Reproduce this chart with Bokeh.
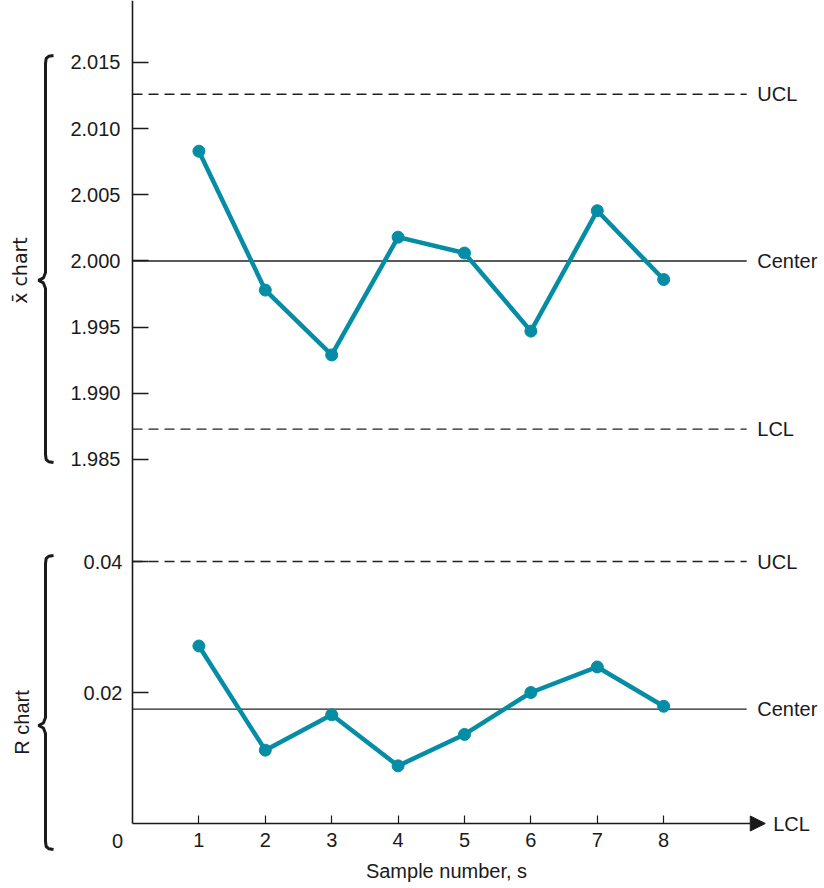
import math
from bokeh.plotting import figure
from bokeh.models import (Range1d, LinearAxis, FixedTicker, PrintfTickFormatter,
                          ColumnDataSource, Arrow, NormalHead)
from bokeh.core.properties import value
from bokeh.embed import file_html
from bokeh.resources import INLINE

# ---------------- data ----------------
samples = [1, 2, 3, 4, 5, 6, 7, 8]
xbar_values = [2.0083, 1.9978, 1.9929, 2.0018, 2.0006, 1.9947, 2.0038, 1.9986]
r_values = [0.0271, 0.0112, 0.0166, 0.0088, 0.0136, 0.0200, 0.0239, 0.0179]

xbar_limit_names = ["UCL", "Center", "LCL"]
xbar_limits = [2.0126, 2.0000, 1.9873]
r_limit_names = ["UCL", "Center"]
r_limits = [0.040, 0.01745]
r_lcl = 0.0

xbar_ticks = [1.985, 1.990, 1.995, 2.000, 2.005, 2.010, 2.015]
r_ticks = [0.02, 0.04]
x_ticks = [1, 2, 3, 4, 5, 6, 7, 8]

# ---------------- layout ----------------
W, H = 824, 886
X0, X1 = -1.988, 10.422
R0, R1 = -0.009618, 0.12565
XB0, XB1 = 1.952731, 2.019685

FONT = "Liberation Sans"
TEAL = "#058DA6"
INK = "#1a1a1a"
LINE_END = 9.25
LABEL_X = 9.41
AXIS_END = 9.53

p = figure(width=W, height=H, x_range=Range1d(X0, X1), y_range=Range1d(R0, R1),
           output_backend="svg", toolbar_location=None,
           x_axis_type=None, y_axis_type=None, min_border=0,
           outline_line_color=None, background_fill_color="white",
           border_fill_color="white")
p.extra_y_ranges = {"xbar": Range1d(XB0, XB1)}

# pixel scales (derived from ranges)
px_x = W / (X1 - X0)
px_r = H / (R1 - R0)
px_xb = H / (XB1 - XB0)

# ---------------- axes ----------------
def style_axis(ax):
    ax.major_label_text_font = FONT
    ax.major_label_text_font_size = "20px"
    ax.major_label_text_color = INK
    ax.major_tick_line_color = INK
    ax.major_tick_line_width = 1.6
    ax.minor_tick_line_color = None
    ax.axis_line_color = INK
    ax.axis_line_width = 1.6

r_axis = LinearAxis(ticker=FixedTicker(ticks=r_ticks),
                    formatter=PrintfTickFormatter(format="%.2f"),
                    fixed_location=0, bounds=(0, R1),
                    major_tick_in=16, major_tick_out=0, major_label_standoff=10)
style_axis(r_axis)
p.add_layout(r_axis, "left")

xb_axis = LinearAxis(y_range_name="xbar", ticker=FixedTicker(ticks=xbar_ticks),
                     formatter=PrintfTickFormatter(format="%.3f"),
                     fixed_location=0,
                     major_tick_in=16, major_tick_out=0, major_label_standoff=12)
style_axis(xb_axis)
xb_axis.axis_line_color = None
p.add_layout(xb_axis, "left")

x_axis = LinearAxis(ticker=FixedTicker(ticks=x_ticks), fixed_location=0,
                    bounds=(0, 9.46), major_tick_in=8, major_tick_out=0,
                    major_label_standoff=9,
                    axis_label="Sample number, s", axis_label_standoff=10,
                    axis_label_text_font=FONT, axis_label_text_font_size="20px",
                    axis_label_text_font_style="normal",
                    axis_label_text_color=INK)
style_axis(x_axis)
x_axis.major_tick_line_width = 1.2
x_axis.axis_line_color = None
p.add_layout(x_axis, "below")

p.add_layout(Arrow(end=NormalHead(size=15, fill_color=INK, line_color=INK),
                   x_start=0, y_start=0, x_end=AXIS_END, y_end=0,
                   line_color=INK, line_width=1.6))

# origin label
p.text(x=[0], y=[0], text=["0"], x_offset=-15, y_offset=10,
       text_align="center", text_baseline="top",
       text_font=value(FONT), text_font_size="20px", text_color=INK)

# ---------------- control limit lines ----------------
for name, yv in zip(xbar_limit_names, xbar_limits):
    dash = "solid" if name == "Center" else "10 6"
    p.segment(x0=[0], y0=[yv], x1=[LINE_END], y1=[yv], y_range_name="xbar",
              line_color="#222222", line_width=1.3, line_dash=dash)
p.text(x=[LABEL_X] * 3, y=xbar_limits, text=xbar_limit_names, y_range_name="xbar",
       text_align="left", text_baseline="middle",
       text_font=value(FONT), text_font_size="20px", text_color=INK)

for name, yv in zip(r_limit_names, r_limits):
    dash = "solid" if name == "Center" else "10 6"
    p.segment(x0=[0], y0=[yv], x1=[LINE_END], y1=[yv],
              line_color="#222222", line_width=1.3, line_dash=dash)
p.text(x=[LABEL_X] * 2, y=r_limits, text=r_limit_names,
       text_align="left", text_baseline="middle",
       text_font=value(FONT), text_font_size="20px", text_color=INK)
p.text(x=[AXIS_END + 0.12], y=[r_lcl], text=["LCL"],
       text_align="left", text_baseline="middle",
       text_font=value(FONT), text_font_size="20px", text_color=INK)

# ---------------- data series ----------------
xb_src = ColumnDataSource(dict(s=samples, v=xbar_values))
r_src = ColumnDataSource(dict(s=samples, v=r_values))
p.line("s", "v", source=xb_src, y_range_name="xbar", line_color=TEAL, line_width=4.5)
p.scatter("s", "v", source=xb_src, y_range_name="xbar", size=12,
          fill_color=TEAL, line_color=TEAL)
p.line("s", "v", source=r_src, line_color=TEAL, line_width=4.5)
p.scatter("s", "v", source=r_src, size=12, fill_color=TEAL, line_color=TEAL)

# ---------------- braces and chart labels ----------------
def brace(xc, top, bot, mid, py):
    h = 8 / px_x      # hook width in x units
    c = 7 / px_x      # cusp depth
    u = 1 / py        # one pixel in y units
    xs = [xc + h, xc + 0.4 * h, xc + 0.08 * h, xc,
          xc, xc - 0.3 * c, xc - c, xc - 0.3 * c, xc,
          xc, xc + 0.08 * h, xc + 0.4 * h, xc + h]
    ys = [top, top - 0.8 * u, top - 3 * u, top - 8 * u,
          mid + 8 * u, mid + 2.5 * u, mid, mid - 2.5 * u, mid - 8 * u,
          bot + 8 * u, bot + 3 * u, bot + 0.8 * u, bot]
    return xs, ys

BRACE_X = -1.31
bx, by = brace(BRACE_X, 2.01553, 1.98477, 1.99853, px_xb)
p.line(bx, by, y_range_name="xbar", line_color=INK, line_width=3)
bx, by = brace(BRACE_X, 0.04092, -0.00397, 0.01496, px_r)
p.line(bx, by, line_color=INK, line_width=3)

p.text(x=[-1.687], y=[1.99928], text=["x\u0304 chart"], y_range_name="xbar",
       angle=math.pi / 2, text_align="center", text_baseline="middle",
       text_font=value("DejaVu Sans"), text_font_size="19px", text_color=INK)
p.text(x=[-1.657], y=[0.01542], text=["R chart"],
       angle=math.pi / 2, text_align="center", text_baseline="middle",
       text_font=value(FONT), text_font_size="20px", text_color=INK)

open("out.html", "w").write(file_html(p, INLINE))
